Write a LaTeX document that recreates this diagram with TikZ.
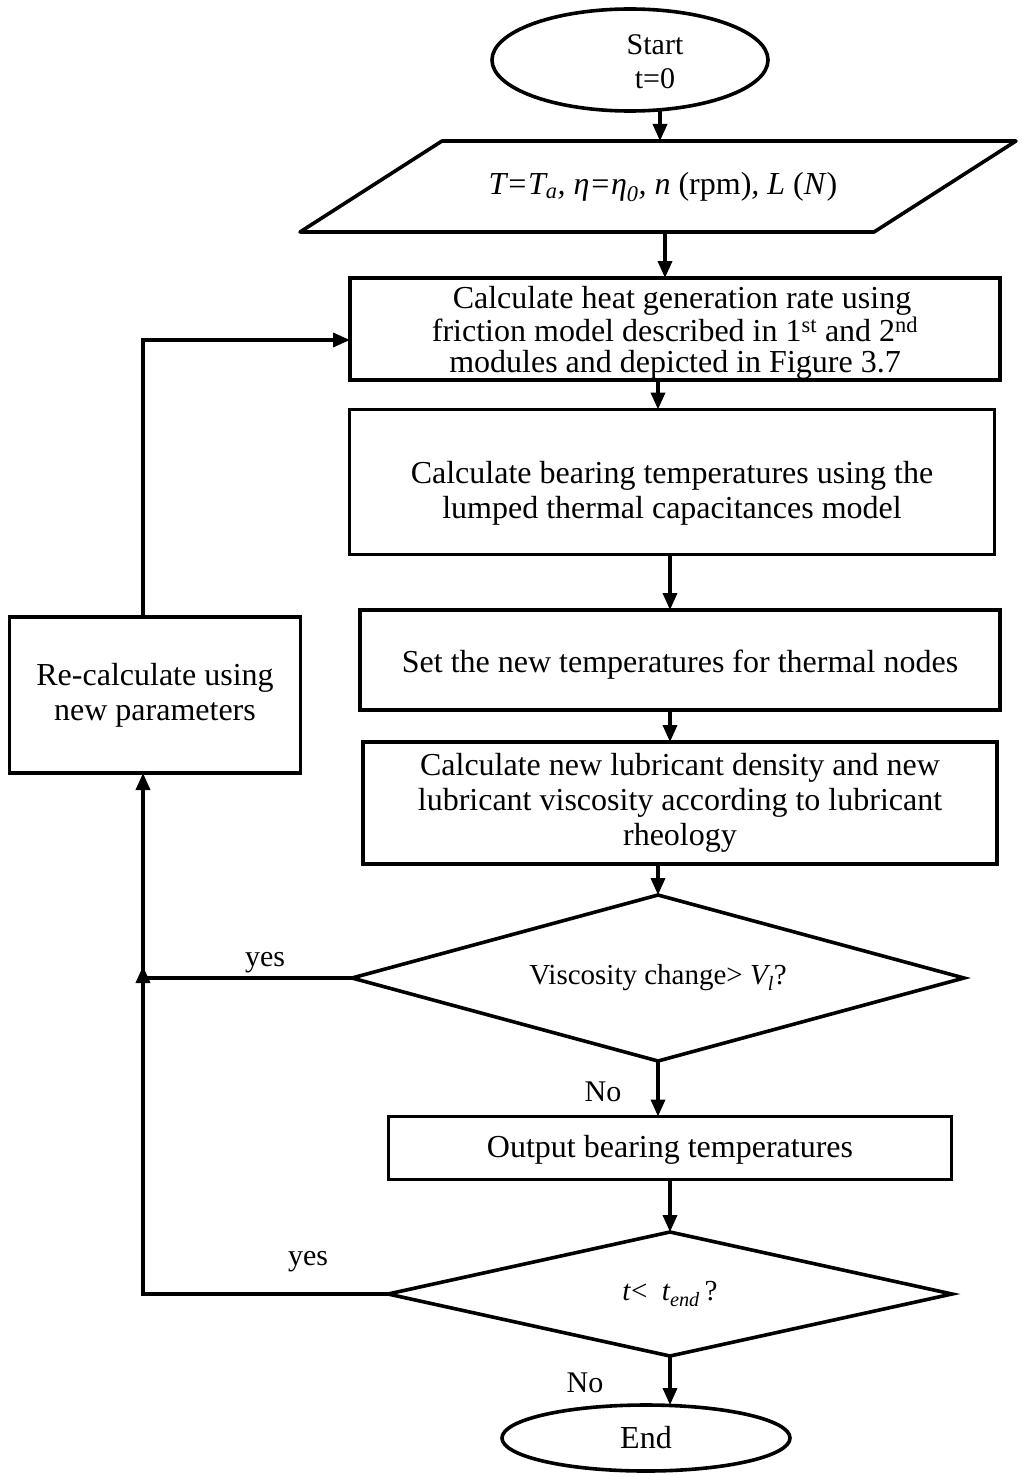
\documentclass[tikz,border=0pt]{standalone}
\usepackage{fontspec}
\setmainfont{Liberation Serif}
\usetikzlibrary{arrows.meta,shapes.geometric}
\newcommand{\lift}[1]{\rule{0pt}{#1}}
\begin{document}
\begin{tikzpicture}[x=1pt,y=-1pt,
  every node/.style={font=\fontsize{32}{35}\selectfont, inner sep=0pt, outer sep=0pt},
  flowline/.style={line width=3.6pt},
  arr/.style={flowline,-{Triangle[length=17pt,width=14pt]}},
  procbox/.style={draw, line width=3.6pt, rectangle, align=center},
  decision/.style={draw, line width=3.6pt, diamond, align=center, font=\fontsize{29}{32}\selectfont},
  terminal/.style={draw, line width=3.6pt, ellipse},
  branchlabel/.style={font=\fontsize{30}{35}\selectfont}
]
\useasboundingbox (0,0) rectangle (1021,1477);

% terminals
\node[terminal, minimum width=276pt, minimum height=102pt] (start) at (630,60) {};
\node[align=center, font=\fontsize{30}{34}\selectfont] (starttxt) at (655,62) {Start\\t=0};

% input parallelogram
\coordinate (pBL) at (300,232);
\coordinate (pTL) at (442,141);
\coordinate (pTR) at (1016,141);
\coordinate (pBR) at (874,232);
\draw[flowline, line join=round] (pBL) -- (pTL) -- (pTR) -- (pBR) -- cycle;
\node (input) at (663,187) {\textit{T=T\textsubscript{a}, η=η\textsubscript{0}, n} (rpm)\textit{, L} (\textit{N})};

% process boxes
\node[procbox, minimum width=650pt, minimum height=102pt, font=\fontsize{32}{31}\selectfont] (calcheat) at (675,329)
  {\lift{30pt}\hspace*{14pt}Calculate heat generation rate using\\friction model described in 1\textsuperscript{st} and 2\textsuperscript{nd}\\modules and depicted in Figure 3.7};
\node[procbox, minimum width=645pt, minimum height=145pt] (calctemp) at (672,482)
  {\lift{44pt}Calculate bearing temperatures using the\\lumped thermal capacitances model};
\node[procbox, minimum width=640pt, minimum height=100pt] (settemp) at (680,660)
  {\lift{32pt}Set the new temperatures for thermal nodes};
\node[procbox, minimum width=634pt, minimum height=122pt] (calcvisc) at (680,803)
  {Calculate new lubricant density and new\\lubricant viscosity according to lubricant\\rheology};
\node[decision, minimum width=612pt, minimum height=166pt, shape aspect=3.7] (viscchk) at (658,978)
  {Viscosity change> \textit{V\textsubscript{l}}?};
\node[procbox, minimum width=563pt, minimum height=63pt] (output) at (670,1148)
  {\lift{26pt}Output bearing temperatures};
\node[decision, minimum width=564pt, minimum height=124pt, shape aspect=4.5] (timechk) at (670,1294)
  {\textit{t}<~ \textit{t\textsubscript{end}}\,?};
\node[terminal, minimum width=288pt, minimum height=66pt] (finish) at (646,1438) {End};
\node[procbox, minimum width=291pt, minimum height=156pt] (recalc) at (155,695)
  {Re-calculate using\\new parameters};

% branch labels
\node[branchlabel] (yes1) at (265,963) {yes};
\node[branchlabel] (yes2) at (308,1262) {yes};
\node[branchlabel] (no1) at (603,1092) {No};
\node[branchlabel] (no2) at (585,1383) {No};

% connector columns
\coordinate (c1) at (660,0);
\coordinate (c2) at (665,0);
\coordinate (c3) at (658,0);
\coordinate (c4) at (670,0);
\coordinate (loopx) at (143,0);
\coordinate (merge) at (143,966);
\coordinate (feed) at (0,340);

% main flow
\draw[arr] (start.south -| c1) -- (pTL -| c1);
\draw[arr] (pBL -| c2) -- (calcheat.north -| c2);
\draw[arr] (calcheat.south -| c3) -- (calctemp.north -| c3);
\draw[arr] (calctemp.south -| c4) -- (settemp.north -| c4);
\draw[arr] (settemp.south -| c4) -- (calcvisc.north -| c4);
\draw[arr] (calcvisc.south -| viscchk.north) -- (viscchk.north);
\draw[arr] (viscchk.south) -- (output.north -| viscchk.south);
\draw[arr] (output.south) -- (timechk.north);
\draw[arr] (timechk.south) -- (finish.north -| timechk.south);

% feedback loop
\draw[arr] (timechk.west) -- (timechk.west -| merge) -- (merge);
\draw[arr] (viscchk.west) -- (viscchk.west -| loopx) -- (recalc.south -| loopx);
\draw[arr] (recalc.north -| loopx) -- (loopx |- feed) -- (calcheat.west |- feed);
\end{tikzpicture}
\end{document}
